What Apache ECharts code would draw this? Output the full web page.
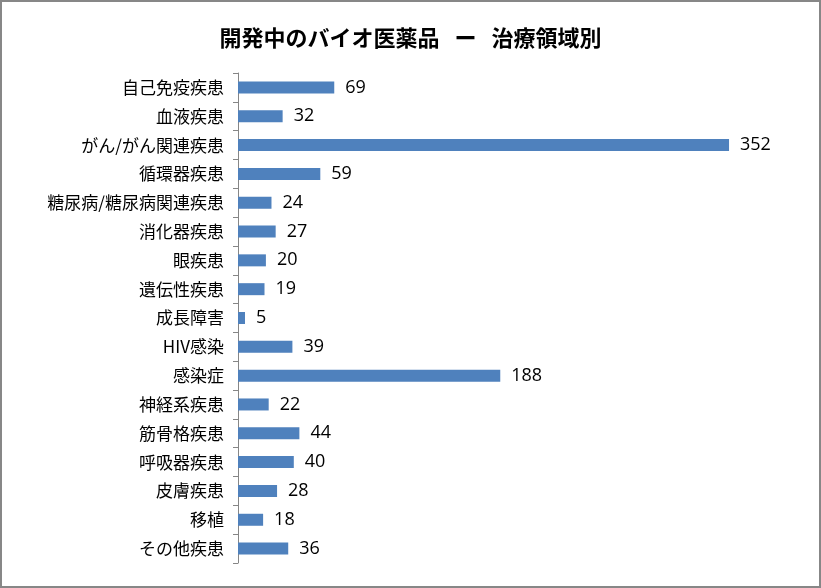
<!DOCTYPE html>
<html><head><meta charset="utf-8">
<script src="https://cdn.jsdelivr.net/npm/echarts@6/dist/echarts.min.js"></script>
<style>html,body{margin:0;padding:0;background:#fff}#c{width:821px;height:588px;box-sizing:border-box;border:2px solid #878787}</style>
</head><body><div id="c"></div>
<script>
const categories = ['自己免疫疾患','血液疾患','がん/がん関連疾患','循環器疾患','糖尿病/糖尿病関連疾患','消化器疾患','眼疾患','遺伝性疾患','成長障害','HIV感染','感染症','神経系疾患','筋骨格疾患','呼吸器疾患','皮膚疾患','移植','その他疾患'];
const values = [69,32,352,59,24,27,20,19,5,39,188,22,44,40,28,18,36];
const titleText = '開発中のバイオ医薬品   ー   治療領域別';
const chart = echarts.init(document.getElementById('c'), null, {renderer:'canvas'});
chart.setOption({
  animation:false,
  title:{text:titleText,left:'center',top:20,textStyle:{fontFamily:'Noto Sans CJK JP',fontSize:22,fontWeight:'bold',color:'#000'}},
  grid:{left:236,right:23,top:71,bottom:23,containLabel:false},
  xAxis:{type:'value',min:0,max:400,show:false},
  yAxis:{type:'category',data:categories,inverse:true,
    axisLine:{lineStyle:{color:'#868686',width:1}},
    axisTick:{show:true,length:5,lineStyle:{color:'#868686'}},
    axisLabel:{fontFamily:'Noto Sans CJK JP',fontSize:17,color:'#000',margin:14}},
  series:[{type:'bar',data:values,barWidth:12,itemStyle:{color:'#4F81BD'},
    label:{show:true,position:'right',distance:11,fontFamily:'Open Sans',fontSize:18,color:'#000'}}]
});
</script></body></html>
